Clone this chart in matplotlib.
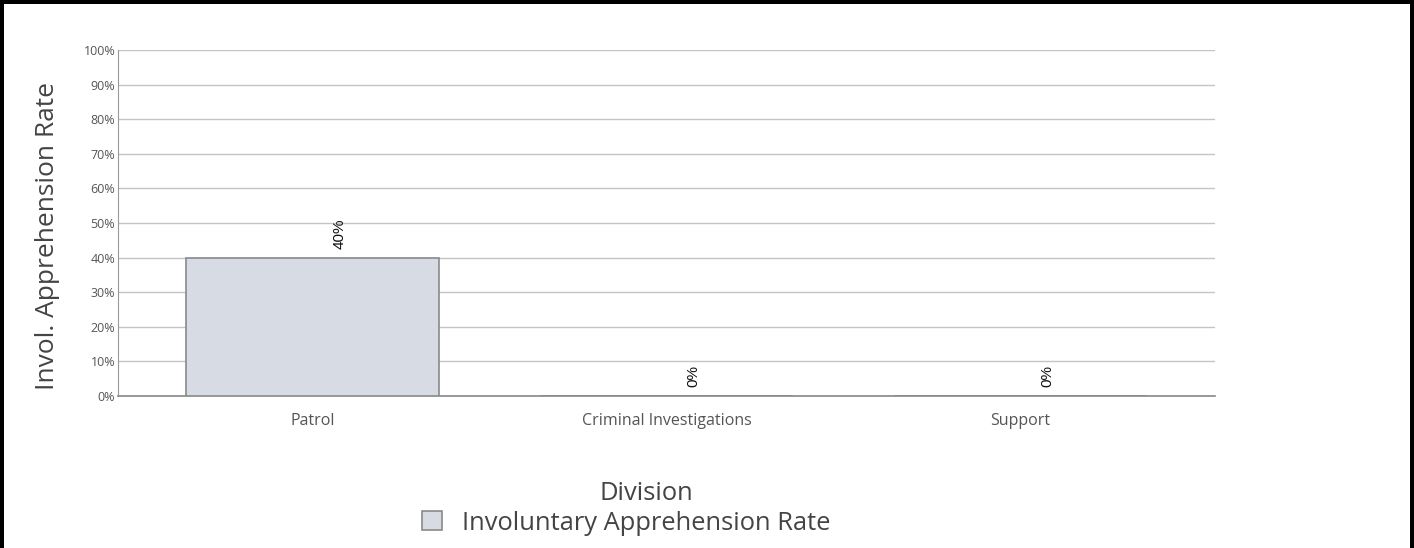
import matplotlib
matplotlib.use("Agg")
import matplotlib.pyplot as plt
from matplotlib.patches import Patch, Rectangle
from matplotlib.ticker import PercentFormatter

# --- data ---
divisions = ["Patrol", "Criminal Investigations", "Support"]
rates = [40, 0, 0]
series_name = "Involuntary Apprehension Rate"
y_ticks = list(range(0, 101, 10))

bar_face = "#d7dbe3"
bar_edge = "#8a8a8a"
grid_col = "#c4c4c4"
text_gray = "#555555"

plt.rcParams["font.family"] = ["Open Sans", "DejaVu Sans"]

W, H = 1414, 548
fig = plt.figure(figsize=(W / 100, H / 100), dpi=100)
ax = fig.add_axes([118 / W, 1 - 396 / H, (1215 - 118) / W, (396 - 50) / H])

x = range(len(divisions))
ax.bar(x, rates, width=0.716, color=bar_face, edgecolor=bar_edge, linewidth=1.2, zorder=3)

# value labels, rotated
for xi, v in zip(x, rates):
    ax.annotate(f"{v}%", (xi, v), xytext=(19.5, 6.5), textcoords="offset points",
                rotation=90, ha="center", va="bottom", fontsize=11,
                family="Liberation Sans", color="#111111")

ax.set_xlim(-0.549, 2.549)
ax.set_ylim(0, 100)
ax.set_yticks(y_ticks)
ax.yaxis.set_major_formatter(PercentFormatter(decimals=0))
ax.set_xticks(list(x))
ax.set_xticklabels(divisions)

ax.grid(axis="y", color=grid_col, linewidth=1, zorder=0)
ax.set_axisbelow(True)
for s in ["top", "right"]:
    ax.spines[s].set_visible(False)
ax.spines["left"].set_color("#999999")
ax.spines["bottom"].set_color("#888888")
ax.spines["bottom"].set_linewidth(1.2)
ax.tick_params(axis="y", length=0, pad=2, labelsize=9, labelcolor=text_gray)
ax.tick_params(axis="x", length=0, pad=12, labelsize=11.5, labelcolor=text_gray)

fig.text(48 / W, 1 - 236 / H, "Invol. Apprehension Rate", rotation=90,
         ha="center", va="center", fontsize=19, color="#444444")
fig.text(646 / W, 1 - 493 / H, "Division", ha="center", va="center",
         fontsize=18.4, color="#444444")

handle = Patch(facecolor=bar_face, edgecolor=bar_edge, linewidth=1.2)
leg = fig.legend(handles=[handle], labels=[series_name], loc="center",
                 bbox_to_anchor=(626 / W, 1 - 523 / H), frameon=False,
                 fontsize=18.4, handlelength=0.78, handleheight=0.78,
                 handletextpad=0.78, borderpad=0)
for t in leg.get_texts():
    t.set_color("#444444")

# black frame on top, left and right
for rx, ry, rw, rh in [(0, 0, 4 / W, 1), (1 - 4 / W, 0, 4 / W, 1), (0, 1 - 4 / H, 1, 4 / H)]:
    fig.patches.append(Rectangle((rx, ry), rw, rh, transform=fig.transFigure,
                                 facecolor="black", edgecolor="none", zorder=10))

fig.savefig("out.png", dpi=100, facecolor="white")
